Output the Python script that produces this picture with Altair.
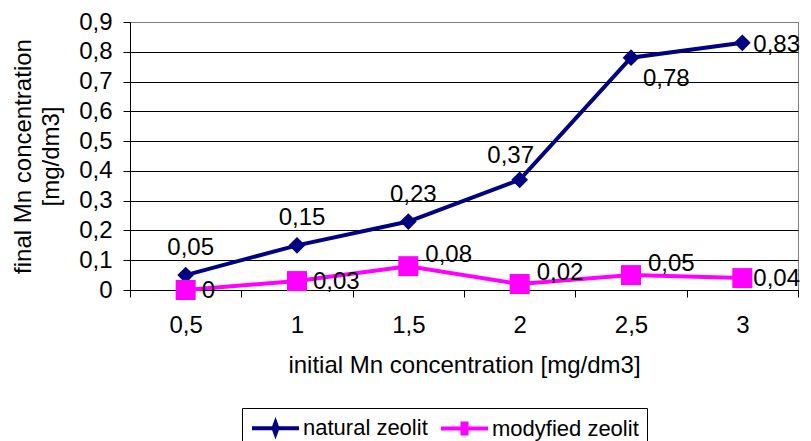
import altair as alt
import pandas as pd

# ---- data ----
x_labels = ["0,5", "1", "1,5", "2", "2,5", "3"]
natural = [0.05, 0.15, 0.23, 0.37, 0.78, 0.83]
modified = [0.0, 0.03, 0.08, 0.02, 0.05, 0.04]
series_names = ["natural zeolit", "modyfied zeolit"]
y_ticks = [0, 0.1, 0.2, 0.3, 0.4, 0.5, 0.6, 0.7, 0.8, 0.9]

rows = []
for i, (xl, v) in enumerate(zip(x_labels, natural)):
    rows.append({"x": xl, "v": v, "s": series_names[0], "i": i})
for i, (xl, v) in enumerate(zip(x_labels, modified)):
    rows.append({"x": xl, "v": v, "s": series_names[1], "i": i})
df = pd.DataFrame(rows)

FONT = "Liberation Sans"
FS = 24
LFS = 22
NAVY = "#000080"
MAG = "#FF00FF"

xenc = alt.X(
    "x:N",
    sort=x_labels,
    scale=alt.Scale(type="band", paddingInner=0, paddingOuter=0),
    axis=alt.Axis(
        title="initial Mn concentration [mg/dm3]",
        labelAngle=0,
        tickBand="extent",
        tickSize=7,
        tickColor="black",
        domainColor="black",
        grid=False,
        labelFont=FONT,
        labelFontSize=FS,
        labelColor="black",
        labelPadding=16,
        titleFont=FONT,
        titleFontSize=FS,
        titleFontWeight="normal",
        titleColor="black",
        titlePadding=16,
    ),
)
yenc = alt.Y(
    "v:Q",
    scale=alt.Scale(domain=[0, 0.9], nice=False, zero=True),
    axis=alt.Axis(
        title=["final Mn concentration", "[mg/dm3]"],
        values=y_ticks,
        labelExpr="datum.value == 0 ? '0' : replace(format(datum.value, '.1f'), '.', ',')",
        tickSize=7,
        tickColor="black",
        domainColor="black",
        grid=True,
        gridColor={"condition": {"test": "datum.value >= 0.89", "value": "#808080"}, "value": "black"},
        gridWidth=1,
        labelFont=FONT,
        labelFontSize=FS,
        labelColor="black",
        labelPadding=11,
        titleFont=FONT,
        titleFontSize=FS,
        titleFontWeight="normal",
        titleColor="black",
        titlePadding=15,
        titleLineHeight=28,
    ),
)

# legend symbols: a line with a small marker at its middle
path_nat = "M-1,0L3.7,0M1.35,-0.55L1.55,0L1.35,0.55L1.15,0Z"
path_mod = "M-1,0L3.7,0M1.15,-0.5L1.55,-0.5L1.55,0.5L1.15,0.5Z"

legend = alt.Legend(
    title=None,
    orient="none",
    legendX=112,
    legendY=386,
    direction="horizontal",
    strokeColor="black",
    padding=8,
    symbolSize=400,
    labelOffset=29,
    columnPadding=5,
    labelFont=FONT,
    labelFontSize=LFS,
    labelColor="black",
    labelLimit=400,
    symbolStrokeWidth=4,
    symbolOpacity=1,
)

base = alt.Chart(df)

# invisible layer that only carries the legend
legend_layer = base.transform_filter("false").mark_point(filled=False, strokeWidth=4, size=400).encode(
    x=xenc,
    y=yenc,
    color=alt.Color("s:N", scale=alt.Scale(domain=series_names, range=[NAVY, MAG]), legend=legend),
    shape=alt.Shape("s:N", scale=alt.Scale(domain=series_names, range=[path_nat, path_mod]), legend=legend),
)

line_nat = base.transform_filter(alt.datum.s == series_names[0]).mark_line(strokeWidth=4, color=NAVY).encode(x=xenc, y=yenc)
line_mod = base.transform_filter(alt.datum.s == series_names[1]).mark_line(strokeWidth=4, color=MAG).encode(x=xenc, y=yenc)

pts_nat = base.transform_filter(alt.datum.s == series_names[0]).mark_point(
    shape="diamond", filled=True, size=280, color=NAVY, opacity=1
).encode(x=xenc, y=yenc)
pts_mod = base.transform_filter(alt.datum.s == series_names[1]).mark_point(
    shape="square", filled=True, size=400, color=MAG, opacity=1
).encode(x=xenc, y=yenc)

lab = base.transform_calculate(lab="replace(format(datum.v, '.2~f'), '.', ',')")


def txt(flt, **kw):
    return lab.transform_filter(flt).mark_text(
        font=FONT, fontSize=FS, color="black", baseline="middle", **kw
    ).encode(x=xenc, y=yenc, text="lab:N")


t1 = txt("datum.s === 'natural zeolit' && datum.i <= 2", align="center", dx=5, dy=-27)
t1b = txt("datum.s === 'natural zeolit' && datum.i == 3", align="center", dx=-9, dy=-24)
t2 = txt("datum.s === 'natural zeolit' && datum.i == 4", align="left", dx=12, dy=21)
t3 = txt("datum.s === 'natural zeolit' && datum.i == 5", align="left", dx=11, dy=2)
t4 = txt("datum.s === 'modyfied zeolit' && datum.i <= 1", align="left", dx=16, dy=1)
t4b = txt("datum.s === 'modyfied zeolit' && datum.i == 5", align="left", dx=11, dy=1)
t5 = txt("datum.s === 'modyfied zeolit' && datum.i >= 2 && datum.i <= 4", align="left", dx=17, dy=-11)

chart = (
    alt.layer(line_nat, line_mod, pts_nat, pts_mod, t1, t1b, t2, t3, t4, t4b, t5, legend_layer)
    .properties(
        width=668,
        height=268,
        autosize=alt.AutoSizeParams(type="none"),
        padding={"left": 122, "top": 14, "right": 5, "bottom": 151},
    )
    .configure(font=FONT)
    .configure_view(stroke="#808080", strokeWidth=1)
)

chart.save("out.html", embed_options={"renderer": "svg", "actions": False})
